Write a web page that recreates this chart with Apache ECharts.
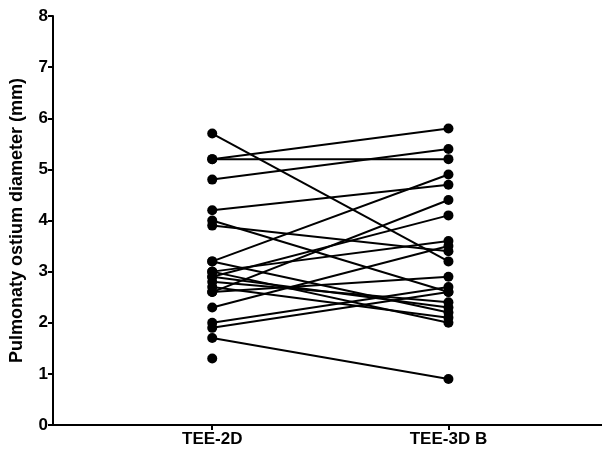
<!DOCTYPE html>
<html>
<head>
<meta charset="utf-8">
<script src="https://cdn.jsdelivr.net/npm/echarts@6/dist/echarts.min.js"></script>
<style>
  html, body { margin: 0; padding: 0; background: #fff; }
  #main { width: 602px; height: 457px; }
</style>
</head>
<body>
<div id="main"></div>
<script>
  // categories and paired values (one pair per subject)
  var categories = ['TEE-2D', 'TEE-3D B'];
  var tee2d = [5.7, 5.2, 5.2, 4.8, 4.2, 4.0, 3.9, 3.2, 3.2, 3.0, 3.0, 2.9, 2.9, 2.8, 2.7, 2.6, 2.6, 2.3, 2.0, 1.9, 1.7, 1.3];
  var tee3d = [3.2, 5.8, 5.2, 5.4, 4.7, 2.6, 3.4, 4.9, 2.2, 3.6, 2.0, 4.1, 2.3, 2.4, 2.1, 4.4, 2.9, 3.5, 2.7, 2.6, 0.9, null];
  var yTicks = [0, 1, 2, 3, 4, 5, 6, 7, 8];

  var series = [];
  for (var i = 0; i < tee2d.length; i++) {
    series.push({
      type: 'line',
      data: [[0, tee2d[i]], [1, tee3d[i]]],
      symbol: 'circle',
      symbolSize: 10,
      lineStyle: { color: '#000', width: 2 },
      itemStyle: { color: '#000' },
      connectNulls: false,
      silent: true,
      animation: false
    });
  }

  var chart = echarts.init(document.getElementById('main'));
  chart.setOption({
    backgroundColor: '#fff',
    grid: { left: 53, right: 0, top: 16, bottom: 32 },
    xAxis: {
      type: 'value',
      min: -0.674,
      max: 1.65,
      splitLine: { show: false },
      axisLine: { onZero: false, lineStyle: { color: '#000', width: 2 } },
      axisTick: { customValues: [0, 1], length: 5, lineStyle: { color: '#000', width: 2 } },
      axisLabel: {
        customValues: [0, 1],
        formatter: function (v) { return categories[Math.round(v)]; },
        color: '#000', fontWeight: 'bold', fontSize: 17,
        fontFamily: 'Liberation Sans', margin: 6
      }
    },
    yAxis: {
      type: 'value',
      min: yTicks[0],
      max: yTicks[yTicks.length - 1],
      interval: 1,
      name: 'Pulmonaty ostium diameter (mm)',
      nameLocation: 'middle',
      nameGap: 27,
      nameTextStyle: { color: '#000', fontWeight: 'bold', fontSize: 18, fontFamily: 'Liberation Sans' },
      splitLine: { show: false },
      axisLine: { show: true, onZero: false, lineStyle: { color: '#000', width: 2 } },
      axisTick: { show: true, length: 5, lineStyle: { color: '#000', width: 2 } },
      axisLabel: { color: '#000', fontWeight: 'bold', fontSize: 17, fontFamily: 'Liberation Sans', margin: 5 }
    },
    series: series
  });
</script>
</body>
</html>
